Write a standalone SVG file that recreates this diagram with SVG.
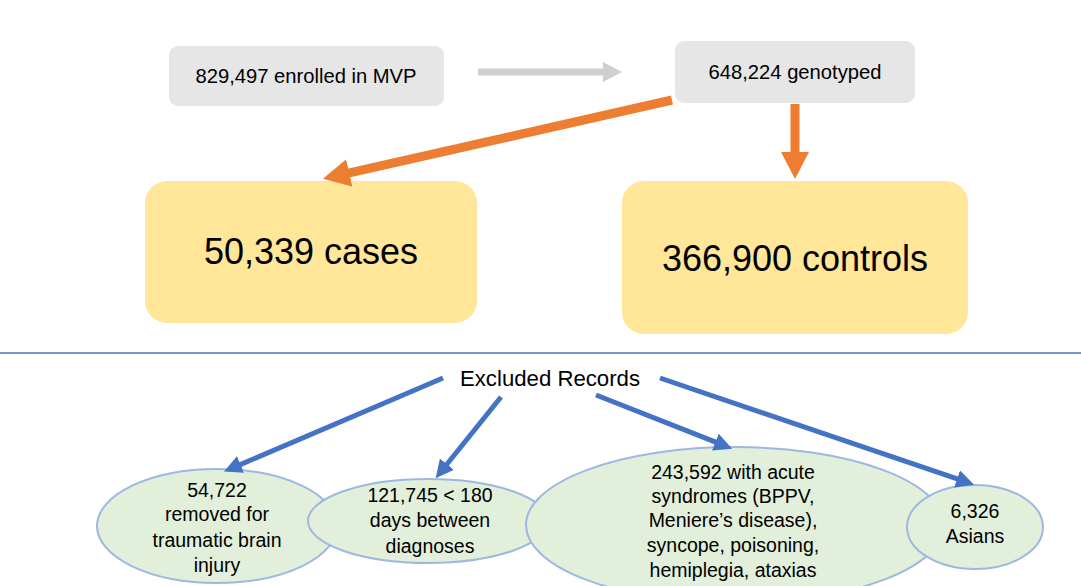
<svg xmlns="http://www.w3.org/2000/svg" width="1081" height="586" viewBox="0 0 1081 586">
<style>
  text { font-family: "Liberation Sans", Arial, sans-serif; fill: #000; text-anchor: middle; }
  .gbox { fill: #e6e6e6; }
  .ybox { fill: #ffe699; }
  .ell { fill: #e2efda; stroke: #9db8e2; stroke-width: 2; }
  .t20 { font-size: 20.2px; }
  .t36 { font-size: 36px; }
  .t19 { font-size: 19.5px; }
  .orange { stroke: #ed7d31; stroke-width: 9; fill: none; }
  .gray { stroke: #d0cece; stroke-width: 7; fill: none; }
  .blue { stroke: #4472c4; stroke-width: 5; fill: none; }
</style>
<defs>
  <marker id="hOrange" markerUnits="userSpaceOnUse" markerWidth="28" markerHeight="28" refX="1" refY="14" orient="auto">
    <path d="M0,0 L27,14 L0,28 z" fill="#ed7d31"/>
  </marker>
  <marker id="hGray" markerUnits="userSpaceOnUse" markerWidth="20" markerHeight="20" refX="1" refY="10" orient="auto">
    <path d="M0,0 L19,10 L0,20 z" fill="#d0cece"/>
  </marker>
  <marker id="hBlue" markerUnits="userSpaceOnUse" markerWidth="18" markerHeight="18" refX="1" refY="9" orient="auto">
    <path d="M0,0 L18,9 L0,18 z" fill="#4472c4"/>
  </marker>
</defs>
<rect width="1081" height="586" fill="#fff"/>

<g id="enrolled">
  <rect class="gbox" x="169" y="46" width="275" height="60" rx="9"/>
  <text class="t20" x="306" y="83">829,497 enrolled in MVP</text>
</g>
<g id="genotyped">
  <rect class="gbox" x="675" y="41" width="240" height="62" rx="9"/>
  <text class="t20" x="795" y="79">648,224 genotyped</text>
</g>
<g id="cases">
  <rect class="ybox" x="145" y="181" width="332" height="142" rx="22"/>
  <text class="t36" x="311" y="264">50,339 cases</text>
</g>
<g id="controls">
  <rect class="ybox" x="622" y="181" width="346" height="153" rx="22"/>
  <text class="t36" x="795" y="271">366,900 controls</text>
</g>

<line id="divider" x1="0" y1="353" x2="1081" y2="353" stroke="#4472c4" stroke-width="1.3"/>

<g id="excluded">
  <text x="550" y="386" style="font-size:22.2px">Excluded Records</text>
</g>

<g id="tbi">
  <ellipse class="ell" cx="217" cy="526" rx="120" ry="57"/>
  <text class="t19" x="217" y="497">54,722</text>
  <text class="t19" x="217" y="521">removed for</text>
  <text class="t19" x="217" y="547">traumatic brain</text>
  <text class="t19" x="217" y="572">injury</text>
</g>
<g id="days">
  <ellipse class="ell" cx="428" cy="521" rx="120" ry="42"/>
  <text class="t19" x="430" y="502">121,745 &lt; 180</text>
  <text class="t19" x="430" y="527">days between</text>
  <text class="t19" x="430" y="553">diagnoses</text>
</g>
<g id="acute">
  <ellipse class="ell" cx="735" cy="525" rx="209" ry="78"/>
  <text class="t19" x="733" y="479">243,592 with acute</text>
  <text class="t19" x="733" y="503">syndromes (BPPV,</text>
  <text class="t19" x="733" y="527">Meniere’s disease),</text>
  <text class="t19" x="733" y="552">syncope, poisoning,</text>
  <text class="t19" x="733" y="577">hemiplegia, ataxias</text>
</g>
<g id="asians">
  <ellipse class="ell" cx="975" cy="527" rx="68" ry="42"/>
  <text class="t19" x="975" y="518">6,326</text>
  <text class="t19" x="975" y="543">Asians</text>
</g>

<g id="connectors">
  <line class="gray" x1="478" y1="72" x2="604" y2="72" marker-end="url(#hGray)"/>
  <line class="orange" x1="672" y1="100" x2="348.3" y2="173.1" marker-end="url(#hOrange)"/>
  <line class="orange" x1="795" y1="104" x2="795" y2="153" stroke-width="10" marker-end="url(#hOrange)"/>
  <line class="blue" x1="443" y1="378" x2="239.6" y2="464.9" marker-end="url(#hBlue)"/>
  <line class="blue" x1="501" y1="397" x2="446.3" y2="465" marker-end="url(#hBlue)"/>
  <line class="blue" x1="596" y1="395" x2="716.3" y2="442.4" marker-end="url(#hBlue)"/>
  <line class="blue" x1="660" y1="378" x2="958" y2="479.2" marker-end="url(#hBlue)"/>
</g>
</svg>
